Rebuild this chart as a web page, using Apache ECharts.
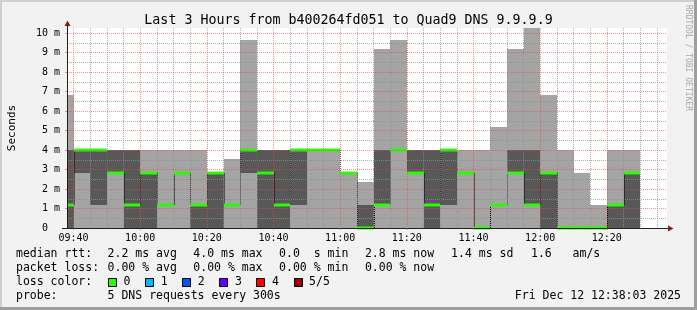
<!DOCTYPE html>
<html><head><meta charset="utf-8">
<script src="https://cdn.jsdelivr.net/npm/echarts@6/dist/echarts.min.js"></script>
<style>html,body{margin:0;padding:0;background:#f2f2f2}#c{width:697px;height:310px}</style>
</head><body><div id="c"></div><script>
// ---- data ----
const titleText = 'Last 3 Hours from b400264fd051 to Quad9 DNS 9.9.9.9';
const viewStart = '09:38:03', viewEnd = '12:38:03';
const stepMin = 5;
const starts = ['09:35','09:40','09:45','09:50','09:55','10:00','10:05','10:10','10:15','10:20',
  '10:25','10:30','10:35','10:40','10:45','10:50','10:55','11:00','11:05','11:10',
  '11:15','11:20','11:25','11:30','11:35','11:40','11:45','11:50','11:55','12:00',
  '12:05','12:10','12:15','12:20','12:25'];
// sorted ping times per step (ms)
const ping1 = [0,0,0,0,0,0,0,0,0,0, 0,0,0,0,0,0,0,0,0,0, 0,0,0,0,0,0,0,0,0,0, 0,0,0,0,0];
const ping2 = [0,2.8,1.2,2.8,0,0,1.2,2.8,0,0, 1.2,2.8,0,0,1.2,4.0,4.0,2.8,0,1.2, 4.0,2.8,0,1.2,2.8,0,1.2,2.8,1.2,0, 0,0,0,0,0];
const ping3 = [1.2,4.0,4.0,2.8,1.2,2.8,1.2,2.8,1.2,2.8, 1.2,4.0,2.8,1.2,4.0,4.0,4.0,2.8,0,1.2, 4.0,2.8,1.2,4.0,2.8,0,1.2,2.8,1.2,2.8, 0,0,0,1.2,2.8];
const ping4 = [4.0,4.0,4.0,4.0,4.0,2.8,1.2,2.8,1.2,2.8, 1.2,4.0,4.0,4.0,4.0,4.0,4.0,2.8,1.2,4.0, 4.0,4.0,4.0,4.0,2.8,0,1.2,4.0,4.0,2.8, 0,0,0,1.2,2.8];
const ping5 = [6.82,4.0,4.0,4.0,4.0,4.0,4.0,4.0,4.0,2.8, 3.54,9.64,4.0,4.0,4.0,4.0,4.0,2.8,2.37,9.18, 9.64,4.0,4.0,4.0,4.0,4.0,5.18,9.18,10.27,6.82, 4.0,2.8,1.2,4.0,4.0];
const xMajorTicks = ['09:40','10:00','10:20','10:40','11:00','11:20','11:40','12:00','12:20'];
const yMajorTicks = [0,1,2,3,4,5,6,7,8,9,10];
const yMax = 10.26;
const rttLabel = 'median rtt:';
const rttValues = ['2.2 ms avg','4.0 ms max','0.0  s min','2.8 ms now','1.4 ms sd','1.6   am/s'];
const lossLabel = 'packet loss:';
const lossValues = ['0.00 % avg','0.00 % max','0.00 % min','0.00 % now'];
const lossColorLabel = 'loss color:';
const lossNames = ['0','1','2','3','4','5/5'];
const lossColors = ['#26ff00','#00b8ff','#0059ff','#5e00ff','#ff0000','#a10000'];
const probeLabel = 'probe:';
const probeText = '5 DNS requests every 300s';
const stampText = 'Fri Dec 12 12:38:03 2025';
const watermark = 'RRDTOOL / TOBI OETIKER';

// ---- helpers ----
const toMin = s => { const p = s.split(':').map(Number); return p[0]*60 + p[1] + (p[2]||0)/60; };
const fmt = v => { const h = Math.floor(v/60), m = Math.round(v - h*60); return String(h).padStart(2,'0')+':'+String(m).padStart(2,'0'); };
const xMin = toMin(viewStart), xMax = toMin(viewEnd);
const xMajor = xMajorTicks.map(toMin);
const xMinor = [];
for (let t = Math.ceil(xMin/stepMin)*stepMin; t < xMax; t += stepMin) if (!xMajor.includes(t)) xMinor.push(t);
const yMinor = yMajorTicks.slice(0,-1).map(v => v + 0.5);
const data = starts.map((t,i) => [toMin(t), toMin(t)+stepMin, ping1[i], ping2[i], ping3[i], ping4[i], ping5[i]]);

const MONO = '"DejaVu Sans Mono"';
const LIGHT = '#a4a4a4', DARK = '#585858', GREEN = lossColors[0];
const MGRID = 'rgba(222,79,79,0.6)', GRID = 'rgba(143,143,143,0.75)';

function smokeItem(params, api) {
  const s = api.value(0), e = api.value(1);
  const cs = params.coordSys;
  const clip = {x: cs.x, y: cs.y, width: cs.width, height: cs.height};
  function band(lo, hi, color) {
    const a = api.coord([s, hi]), b = api.coord([e, lo]);
    const x0 = Math.round(a[0]), x1 = Math.round(b[0]), y0 = Math.round(a[1]), y1 = Math.round(b[1]);
    const r = echarts.graphic.clipRectByRect({x: x0, y: y0, width: x1-x0, height: y1-y0}, clip);
    return r ? {type: 'rect', shape: r, style: {fill: color}} : null;
  }
  const ch = [];
  const l = band(api.value(2), api.value(6), LIGHT); if (l) ch.push(l);
  const d = band(api.value(3), api.value(5), DARK); if (d) ch.push(d);
  return {type: 'group', children: ch};
}
function medianItem(params, api) {
  const i = params.dataIndex;
  const s = Math.max(api.value(0), xMin), e = api.value(1), m = api.value(4);
  const a = api.coord([s, m]), b = api.coord([e, m]);
  const xa = Math.round(a[0]), xb = Math.round(b[0]);
  const ch = [];
  if (i > 0 && ping3[i-1] !== m) {
    const p = api.coord([s, ping3[i-1]]);
    ch.push({type: 'line', shape: {x1: xa+0.5, y1: p[1], x2: xa+0.5, y2: a[1]}, style: {stroke: '#000', lineWidth: 1, lineDash: [1,1]}});
  }
  ch.push({type: 'line', shape: {x1: xa, y1: Math.round(a[1]), x2: xb, y2: Math.round(b[1])}, style: {stroke: GREEN, lineWidth: 3}});
  return {type: 'group', children: ch};
}

const graphic = [];
// frame
graphic.push({type:'rect', shape:{x:0,y:0,width:697,height:2}, style:{fill:'#cfcfcf'}, silent:true});
graphic.push({type:'rect', shape:{x:0,y:0,width:2,height:310}, style:{fill:'#cfcfcf'}, silent:true});
graphic.push({type:'rect', shape:{x:0,y:307,width:697,height:3}, style:{fill:'#9e9e9e'}, silent:true});
graphic.push({type:'rect', shape:{x:694,y:0,width:3,height:310}, style:{fill:'#9e9e9e'}, silent:true});
// axis extensions & arrows
graphic.push({type:'line', z:10, shape:{x1:67.5,y1:28,x2:67.5,y2:24}, style:{stroke:'#1f1f1f',lineWidth:1}});
graphic.push({type:'line', z:10, shape:{x1:62,y1:228.5,x2:67,y2:228.5}, style:{stroke:'#1f1f1f',lineWidth:1}});
graphic.push({type:'line', z:10, shape:{x1:667,y1:228.5,x2:669,y2:228.5}, style:{stroke:'#1f1f1f',lineWidth:1}});
graphic.push({type:'polygon', z:10, shape:{points:[[64.5,26],[70.5,26],[67.5,20.5]]}, style:{fill:'#7f1f1f'}});
graphic.push({type:'polygon', z:10, shape:{points:[[668,225.5],[668,231.5],[673.5,228.5]]}, style:{fill:'#7f1f1f'}});
// watermark
graphic.push({type:'text', x:688, y:5, rotation:-Math.PI/2, style:{text:watermark, font:'8px '+MONO, fill:'#a8a8a8', align:'left', verticalAlign:'middle'}});
// legend text
const LF = '11.5px ' + MONO;
const rowY = [254, 268, 282, 296];
const colX = [107.6, 193.3, 279.1, 364.9, 451.1, 531];
const txt = (t, x, y, align) => ({type:'text', x, y, style:{text:t, font:LF, fill:'#000', align: align||'left', verticalAlign:'middle'}});
graphic.push(txt(rttLabel, 16, rowY[0]));
rttValues.forEach((t,i) => graphic.push(txt(t, colX[i], rowY[0])));
graphic.push(txt(lossLabel, 16, rowY[1]));
lossValues.forEach((t,i) => graphic.push(txt(t, colX[i], rowY[1])));
graphic.push(txt(lossColorLabel, 16, rowY[2]));
lossNames.forEach((n,i) => {
  const bx = 108 + i*37.1;
  graphic.push({type:'rect', shape:{x:Math.round(bx)+0.5, y:278.5, width:8, height:8}, style:{fill:lossColors[i], stroke:'#000', lineWidth:1}});
  graphic.push(txt(n, bx + 15.6, rowY[2]));
});
graphic.push(txt(probeLabel, 16, rowY[3]));
graphic.push(txt(probeText, colX[0], rowY[3]));
graphic.push(txt(stampText, 681, rowY[3], 'right'));

const chart = echarts.init(document.getElementById('c'), null, {renderer:'canvas'});
chart.setOption({
  animation: false,
  backgroundColor: '#f2f2f2',
  title: {text: titleText, left: 'center', top: 9, textStyle: {fontFamily: MONO, fontSize: 13.3, fontWeight: 'normal', color: '#000'}},
  grid: {left: 67, right: 30, top: 28, bottom: 82, containLabel: false, outerBoundsMode: 'none', show: true, backgroundColor: '#fff', borderWidth: 0},
  xAxis: [
    {type: 'value', min: xMin, max: xMax, z: 5,
      axisLine: {show: true, onZero: false, lineStyle: {color: '#1f1f1f', width: 1}},
      axisTick: {show: true, length: 2, inside: false, customValues: xMajor, lineStyle: {color: MGRID}},
      axisLabel: {customValues: xMajor, formatter: fmt, margin: 5, fontFamily: MONO, fontSize: 10, color: '#000'},
      splitLine: {show: true, lineStyle: {color: MGRID, type: [1,1], width: 1}}},
    {type: 'value', min: xMin, max: xMax, z: 4, position: 'bottom',
      axisLine: {show: false}, axisLabel: {show: false},
      axisTick: {show: false, customValues: xMinor},
      splitLine: {show: true, lineStyle: {color: GRID, type: [1,1], width: 1}}}
  ],
  yAxis: [
    {type: 'value', min: 0, max: yMax, z: 5,
      name: 'Seconds', nameLocation: 'middle', nameGap: 49, nameRotate: 90,
      nameTextStyle: {fontFamily: MONO, fontSize: 11, color: '#000'},
      axisLine: {show: true, onZero: false, lineStyle: {color: '#1f1f1f', width: 1}},
      axisTick: {show: true, length: 2, customValues: yMajorTicks, lineStyle: {color: MGRID}},
      axisLabel: {customValues: yMajorTicks, formatter: v => v === 0 ? '0  ' : v + ' m', margin: 7, fontFamily: MONO, fontSize: 10, color: '#000'},
      splitLine: {show: true, lineStyle: {color: MGRID, type: [1,1], width: 1}}},
    {type: 'value', min: 0, max: yMax, z: 4, position: 'left',
      axisLine: {show: false}, axisLabel: {show: false},
      axisTick: {show: false, customValues: yMinor},
      splitLine: {show: true, lineStyle: {color: GRID, type: [1,1], width: 1}}}
  ],
  series: [
    {type: 'custom', name: 'smoke', z: 2, xAxisIndex: 0, yAxisIndex: 0, renderItem: smokeItem, data: data,
      encode: {x: [0,1], y: [2,3,4,5,6]}},
    {type: 'custom', name: 'median', z: 3, xAxisIndex: 0, yAxisIndex: 0, renderItem: medianItem, data: data,
      encode: {x: [0,1], y: [4]}}
  ],
  graphic: graphic
});
</script></body></html>
